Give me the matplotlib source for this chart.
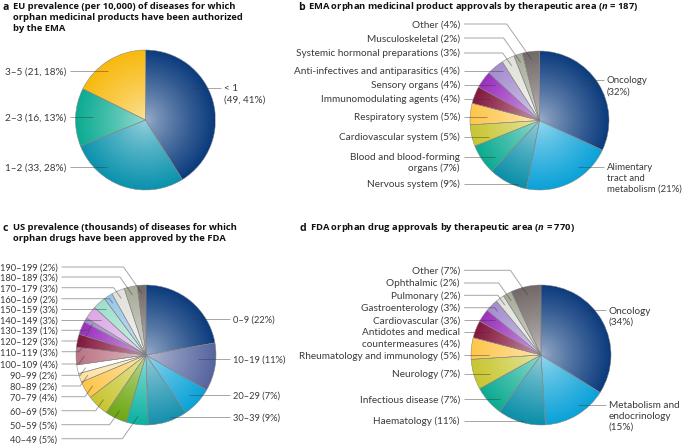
import numpy as np
import matplotlib.pyplot as plt
from matplotlib.colors import to_rgb

plt.rcParams['font.family'] = ['Lato', 'DejaVu Sans']
plt.rcParams['mathtext.fontset'] = 'custom'
plt.rcParams['mathtext.it'] = 'Open Sans:italic:bold'
plt.rcParams['mathtext.rm'] = 'Open Sans:bold'

# ---------------- data ----------------
# a: EU prevalence (per 10,000)
eu_bands = ['< 1\n', '1–2 ', '2–3 ', '3–5 ']
eu_counts = [49, 33, 16, 21]
eu_colors = ['#0b3b7d', '#0a92ad', '#0bab92', '#f8b90c']

# b: EMA approvals by therapeutic area (n = 187)
ema_areas = ['Oncology\n', 'Alimentary\ntract and\nmetabolism ', 'Nervous system ',
             'Blood and blood-forming\norgans ', 'Cardiovascular system ',
             'Respiratory system ', 'Immunomodulating agents ', 'Sensory organs ',
             'Anti-infectives and antiparasitics ', 'Systemic hormonal preparations ',
             'Musculoskeletal ', 'Other ']
ema_pct = [32, 21, 9, 7, 5, 5, 4, 4, 4, 3, 2, 4]

# c: US prevalence (thousands)
us_bands = ['0–9', '10–19', '20–29', '30–39', '40–49', '50–59', '60–69', '70–79',
            '80–89', '90–99', '100–109', '110–119', '120–129', '130–139', '140–149',
            '150–159', '160–169', '170–179', '180–189', '190–199']
us_pct = [22, 11, 7, 9, 5, 5, 5, 4, 2, 2, 4, 3, 3, 1, 3, 3, 2, 3, 3, 2]
us_colors = ['#0b3b7d', '#56659f', '#0aa2d8', '#1690ae', '#0bb2a2', '#6ea712',
             '#c8c630', '#fdc64c', '#fde2a3', '#ffffff', '#bb7484', '#86163f',
             '#9b2fbf', '#a48ccf', '#dba8e6', '#9edfcb', '#94c6ea', '#e2e2dc',
             '#a7ab99', '#716766']

# d: FDA approvals by therapeutic area (n = 770)
fda_areas = ['Oncology\n', 'Metabolism and\nendocrinology\n', 'Haematology ',
             'Infectious disease ', 'Neurology ', 'Rheumatology and immunology ',
             'Antidotes and medical\ncountermeasures ', 'Cardiovascular ',
             'Gastroenterology ', 'Pulmonary ', 'Ophthalmic ', 'Other ']
fda_pct = [34, 15, 11, 7, 7, 5, 4, 3, 3, 2, 2, 7]

area_colors = ['#0b3b7d', '#0aa2d8', '#0b8fa9', '#0bab92', '#c8c630', '#fdc64c',
               '#86163f', '#9b2fbf', '#a48ccf', '#e2e2dc', '#a7ab99', '#716766']

# ---------------- layout (pixels, y from top) ----------------
W, H = 685, 444
fig = plt.figure(figsize=(W / 100, H / 100), dpi=100)
ax = fig.add_axes([0, 0, 1, 1])


def Y(y):
    return H - y


LABEL_COLOR = '#3a3a3a'
LINE_KW = dict(color='#3a3a3a', alpha=0.45, lw=0.7, zorder=3, solid_capstyle='butt')
STEP = 10.8


def shade(w, color, cx, cy, R):
    # radial gradient: pale at the centre, full colour at the rim
    n = 180
    g = np.linspace(-1, 1, n)
    gx, gy = np.meshgrid(g, g)
    t = np.clip(np.hypot(gx, gy), 0, 1) ** 0.8
    base = np.array(to_rgb(color))
    light = base + (1 - base) * 0.6
    img = light * (1 - t[..., None]) + base * t[..., None]
    im = ax.imshow(img, extent=(cx - R, cx + R, cy - R, cy + R), origin='lower',
                   interpolation='bilinear', zorder=1)
    im.set_clip_path(w)
    w.set_facecolor('none')
    w.set_zorder(2)


def draw_pie(values, colors, cx, cy, R):
    wedges, _ = ax.pie(values, colors=colors, center=(cx, Y(cy)), radius=R,
                       startangle=90, counterclock=False,
                       wedgeprops=dict(edgecolor='#808080', linewidth=0.35))
    for w, c in zip(wedges, colors):
        shade(w, c, cx, Y(cy), R)
    return wedges


def in_wedge(ang, w):
    return (ang - w.theta1) % 360 <= (w.theta2 - w.theta1)


def leader(w, cx, cy, R, ly, side, x0):
    cy, ly = Y(cy), Y(ly)
    dy = ly - cy
    if abs(dy) < 0.97 * R:
        hw = np.sqrt(R ** 2 - dy ** 2)
        x = cx + side * (hw - max(6, 0.25 * hw))
        ang = np.degrees(np.arctan2(dy, x - cx))
        if in_wedge(ang, w):
            ax.plot([x0, x], [ly, ly], **LINE_KW)
            return
    mid = np.radians((w.theta1 + w.theta2) / 2)
    tx, ty = cx + 0.88 * R * np.cos(mid), cy + 0.88 * R * np.sin(mid)
    kx = tx + side * abs(ty - ly) * 0.7
    if side * (x0 - kx) < 0:
        kx = x0
    ax.plot([x0, kx, tx], [ly, ly, ty], **LINE_KW)


def put_lines(x, y, text, ha, **kw):
    # y = centre of the first line (pixels from top)
    for i, line in enumerate(text.split('\n')):
        ax.text(x, Y(y + i * STEP) - 3.4, line.strip(), ha=ha, va='baseline', **kw)


def labels(wedges, texts, ys, sides, cx, cy, R, xl, xr, fs=7.2, fs_right=None):
    fs_right = fs if fs_right is None else fs_right
    for w, t, ly, s in zip(wedges, texts, ys, sides):
        if s < 0:
            put_lines(xl, ly, t, 'right', fontsize=fs, color=LABEL_COLOR)
            leader(w, cx, cy, R, ly, s, xl + 4)
        else:
            put_lines(xr, ly, t, 'left', fontsize=fs_right, color=LABEL_COLOR)
            leader(w, cx, cy, R, ly, s, xr - 3)


def title(x, y, letter, text):
    ax.text(x, Y(y) - 3.6, letter, fontsize=7.6, fontweight='bold', color='#111111',
            va='baseline', family='Open Sans')
    put_lines(x + 10, y, text, 'left', fontsize=6.75, fontweight='bold',
              color='#111111', family='Open Sans')


# a
eu_total = sum(eu_counts)
eu_text = [f'{b}({c}, {round(100 * c / eu_total)}%)' for b, c in zip(eu_bands, eu_counts)]
wa = draw_pie(eu_counts, eu_colors, 145.5, 120, 70)
labels(wa, eu_text, [88, 167, 117, 71], [1, -1, -1, -1], 145.5, 120, 70, 66, 224)
title(3, 6, 'a', 'EU prevalence (per 10,000) of diseases for which\n'
      'orphan medicinal products have been authorized\nby the EMA')

# b
ema_text = [f'{a}({p}%)' for a, p in zip(ema_areas, ema_pct)]
wb = draw_pie(ema_pct, area_colors, 539.5, 120.5, 69.5)
labels(wb, ema_text, [80, 167, 184, 157, 137, 117, 99, 85, 71, 53, 38, 24],
       [1, 1] + [-1] * 10, 539.5, 120.5, 69.5, 460, 607, fs_right=6.9)
title(298, 6, 'b', 'EMA orphan medicinal product approvals by therapeutic area ($n$ = 187)')

# c
us_text = [f'{b} ({p}%)' for b, p in zip(us_bands, us_pct)]
wc = draw_pie(us_pct, us_colors, 146, 355, 70)
labels(wc, us_text,
       [318.7, 358.7, 394.7, 417, 438.7, 424.7, 410.7, 396.7, 386, 375.3, 364,
        351.7, 341, 330.3, 320, 309.3, 298.7, 287.7, 277, 267],
       [1] * 4 + [-1] * 16, 146, 355, 70, 57.5, 233, fs=6.7)
title(3, 227, 'c', 'US prevalence (thousands) of diseases for which\n'
      'orphan drugs have been approved by the FDA')

# d
fda_text = [f'{a}({p}%)' for a, p in zip(fda_areas, fda_pct)]
wd = draw_pie(fda_pct, area_colors, 541, 355, 70)
labels(wd, fda_text, [310.3, 404.7, 421, 399.3, 373.7, 355.3, 332, 320.3, 307.7,
                      295.3, 283, 270.3],
       [1, 1] + [-1] * 10, 541, 355, 70, 460, 609)
title(300, 227, 'd', 'FDA orphan drug approvals by therapeutic area ($n$ = 770)')

ax.set_xlim(0, W)
ax.set_ylim(0, H)
ax.set_aspect('equal')
ax.set_axis_off()
fig.savefig('out.png', dpi=100)
